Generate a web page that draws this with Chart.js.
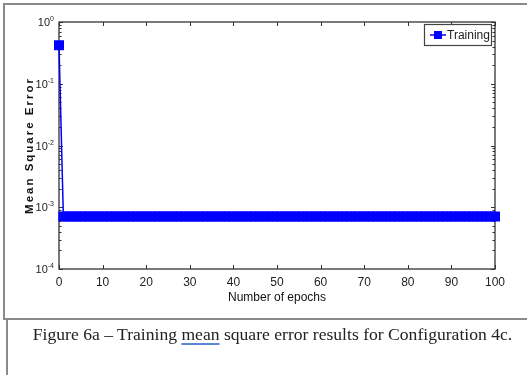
<!DOCTYPE html>
<html>
<head>
<meta charset="utf-8">
<script src="https://cdn.jsdelivr.net/npm/chart.js@4"></script>
<style>
  body { margin: 0; background: #fff; }
  #wrap { position: relative; width: 527px; height: 375px; overflow: hidden; background: #fff; }
  #grafica { position: absolute; left: 0; top: 0; }
  .linea { position: absolute; background: #8a8a8a; }
  #caption {
    position: absolute; left: 13px; top: 324px; width: 519px; text-align: center;
    font-family: 'Liberation Serif', 'Times New Roman', serif; font-size: 17.6px; color: #222;
  }
  #caption u { text-decoration-color: #5b86d6; text-decoration-thickness: 2px; text-underline-offset: 3px; }
</style>
</head>
<body>
<div id="wrap">
  <canvas id="grafica" width="527" height="318"></canvas>
  <div class="linea" style="left:3px; top:3px; width:524px; height:2px;"></div>
  <div class="linea" style="left:3px; top:3px; width:2px; height:317px;"></div>
  <div class="linea" style="left:3px; top:318px; width:524px; height:2px;"></div>
  <div class="linea" style="left:6px; top:318px; width:2px; height:57px;"></div>
  <div id="caption">Figure 6a – Training <u>mean</u> square error results for Configuration 4c.</div>
</div>

<script type="text/javascript">

    // Epocas
    var epocas = [
        0, 1, 2, 3, 4, 5, 6, 7, 8, 9,
        10, 11, 12, 13, 14, 15, 16, 17, 18, 19,
        20, 21, 22, 23, 24, 25, 26, 27, 28, 29,
        30, 31, 32, 33, 34, 35, 36, 37, 38, 39,
        40, 41, 42, 43, 44, 45, 46, 47, 48, 49,
        50, 51, 52, 53, 54, 55, 56, 57, 58, 59,
        60, 61, 62, 63, 64, 65, 66, 67, 68, 69,
        70, 71, 72, 73, 74, 75, 76, 77, 78, 79,
        80, 81, 82, 83, 84, 85, 86, 87, 88, 89,
        90, 91, 92, 93, 94, 95, 96, 97, 98, 99,
        100
    ];
    // Error cuadratico medio (entrenamiento)
    var mseTraining = [
        0.42, 0.00071, 0.00071, 0.00071, 0.00071, 0.00071, 0.00071, 0.00071, 0.00071, 0.00071,
        0.00071, 0.00071, 0.00071, 0.00071, 0.00071, 0.00071, 0.00071, 0.00071, 0.00071, 0.00071,
        0.00071, 0.00071, 0.00071, 0.00071, 0.00071, 0.00071, 0.00071, 0.00071, 0.00071, 0.00071,
        0.00071, 0.00071, 0.00071, 0.00071, 0.00071, 0.00071, 0.00071, 0.00071, 0.00071, 0.00071,
        0.00071, 0.00071, 0.00071, 0.00071, 0.00071, 0.00071, 0.00071, 0.00071, 0.00071, 0.00071,
        0.00071, 0.00071, 0.00071, 0.00071, 0.00071, 0.00071, 0.00071, 0.00071, 0.00071, 0.00071,
        0.00071, 0.00071, 0.00071, 0.00071, 0.00071, 0.00071, 0.00071, 0.00071, 0.00071, 0.00071,
        0.00071, 0.00071, 0.00071, 0.00071, 0.00071, 0.00071, 0.00071, 0.00071, 0.00071, 0.00071,
        0.00071, 0.00071, 0.00071, 0.00071, 0.00071, 0.00071, 0.00071, 0.00071, 0.00071, 0.00071,
        0.00071, 0.00071, 0.00071, 0.00071, 0.00071, 0.00071, 0.00071, 0.00071, 0.00071, 0.00071,
        0.00071
    ];
    var xTicks = [0, 10, 20, 30, 40, 50, 60, 70, 80, 90, 100];
    var yTicks = [0.0001, 0.001, 0.01, 0.1, 1];
    var yExponentes = ['-4', '-3', '-2', '-1', '0'];
    var yTitulo = 'Mean Square Error';

    var fuente = "'Liberation Sans Narrow', 'Liberation Sans', Arial, sans-serif";
    var azul = '#0000ff';

    // caja estilo matlab con marcas hacia adentro
    var cajaMatlab = {
        id: 'cajaMatlab',
        beforeDatasetsDraw(chart) {
            let ctx = chart.ctx, a = chart.chartArea;
            let x = chart.scales.x, y = chart.scales.y;
            ctx.save();
            ctx.strokeStyle = '#333';
            ctx.lineWidth = 1.3;
            ctx.strokeRect(a.left, a.top, a.right - a.left, a.bottom - a.top);
            ctx.lineWidth = 1;
            ctx.beginPath();
            xTicks.forEach(v => {
                let px = Math.round(x.getPixelForValue(v)) + 0.5;
                ctx.moveTo(px, a.bottom); ctx.lineTo(px, a.bottom - 4);
                ctx.moveTo(px, a.top); ctx.lineTo(px, a.top + 4);
            });
            for (let k = 0; k < yTicks.length; k++) {
                for (let m = 1; m <= 9; m++) {
                    let v = yTicks[k] * m;
                    if (v > 1.0001) break;
                    let py = Math.round(y.getPixelForValue(v)) + 0.5;
                    let len = m === 1 ? 4 : 2.5;
                    ctx.moveTo(a.left, py); ctx.lineTo(a.left + len, py);
                    ctx.moveTo(a.right, py); ctx.lineTo(a.right - len, py);
                }
            }
            ctx.stroke();

            // etiquetas del eje y: 10 con exponente
            ctx.fillStyle = '#222';
            ctx.textBaseline = 'alphabetic';
            ctx.textAlign = 'right';
            yTicks.forEach((v, i) => {
                let py = y.getPixelForValue(v);
                let derecha = a.left - 5;
                ctx.font = '7px ' + fuente;
                let anchoExp = ctx.measureText(yExponentes[i]).width;
                ctx.fillText(yExponentes[i], derecha, py - 1);
                ctx.font = '11px ' + fuente;
                ctx.fillText('10', derecha - anchoExp, py + 4);
            });

            // titulo del eje y, espaciado como en matlab
            ctx.translate(30, (a.top + a.bottom) / 2);
            ctx.rotate(-Math.PI / 2);
            ctx.font = 'bold 11.5px ' + fuente;
            ctx.letterSpacing = '2px';
            ctx.fillStyle = '#111';
            ctx.textAlign = 'center';
            ctx.textBaseline = 'middle';
            ctx.fillText(yTitulo, 0, 0);
            ctx.restore();
        },
        afterDatasetsDraw(chart) {
            // leyenda
            let ctx = chart.ctx;
            let lx = 424, ly = 24, lw = 67, lh = 21;
            ctx.save();
            ctx.fillStyle = '#fff';
            ctx.fillRect(lx, ly, lw, lh);
            ctx.strokeStyle = '#444';
            ctx.lineWidth = 1.2;
            ctx.strokeRect(lx + 0.5, ly + 0.5, lw, lh);
            ctx.strokeStyle = azul;
            ctx.lineWidth = 1.5;
            ctx.beginPath();
            ctx.moveTo(lx + 6, ly + 11); ctx.lineTo(lx + 22, ly + 11);
            ctx.stroke();
            ctx.fillStyle = azul;
            ctx.fillRect(lx + 10, ly + 7, 8, 8);
            ctx.fillStyle = '#222';
            ctx.font = '12px ' + fuente;
            ctx.textBaseline = 'middle';
            ctx.fillText(chart.data.datasets[0].label, lx + 23, ly + 11.5);
            ctx.restore();
        }
    };

    var canvas = document.getElementById('grafica');
    var context = canvas.getContext('2d');

    var puntos = epocas.map((e, i) => ({ x: e, y: mseTraining[i] }));

    window.grafica = new Chart(context, {
        type: 'line',
        data: {
            datasets: [{
                label: 'Training',
                data: puntos,
                borderColor: azul,
                backgroundColor: azul,
                borderWidth: 1.5,
                pointStyle: 'rect',
                pointRadius: 6,
                pointBorderWidth: 1.5,
                pointBorderColor: azul,
                pointBackgroundColor: azul,
                clip: false,
                tension: 0
            }]
        },
        options: {
            responsive: false,
            animation: false,
            layout: { padding: { left: 23, top: 22, right: 32, bottom: 13 } },
            plugins: {
                legend: { display: false },
                tooltip: { enabled: false }
            },
            scales: {
                x: {
                    type: 'linear',
                    min: 0,
                    max: 100,
                    afterBuildTicks: s => { s.ticks = xTicks.map(v => ({ value: v })); },
                    afterFit: s => { s.height = 36; },
                    grid: { display: false, drawTicks: false },
                    border: { display: false },
                    ticks: {
                        padding: 6,
                        maxRotation: 0,
                        color: '#222',
                        font: { family: fuente, size: 12 }
                    },
                    title: {
                        display: true,
                        text: 'Number of epochs',
                        color: '#111',
                        padding: { top: 0, bottom: 0 },
                        font: { family: fuente, size: 12 }
                    }
                },
                y: {
                    type: 'logarithmic',
                    min: 0.0001,
                    max: 1,
                    afterBuildTicks: s => { s.ticks = yTicks.map(v => ({ value: v })); },
                    afterFit: s => { s.width = 36; },
                    grid: { display: false, drawTicks: false },
                    border: { display: false },
                    ticks: { display: false },
                    title: { display: false }
                }
            }
        },
        plugins: [cajaMatlab]
    });

</script>
</body>
</html>
